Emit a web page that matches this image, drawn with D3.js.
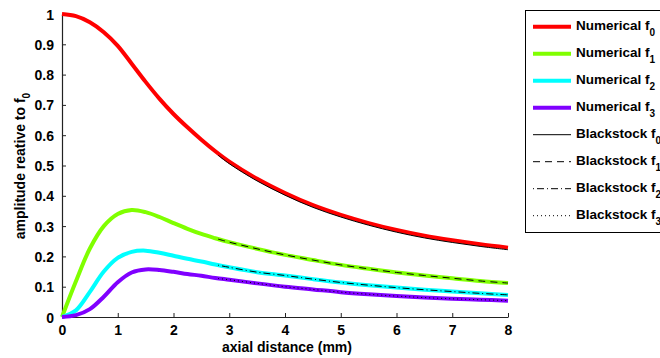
<!DOCTYPE html>
<html><head><meta charset="utf-8">
<script src="https://cdn.jsdelivr.net/npm/d3@7"></script>
<style>
html,body{margin:0;padding:0;background:#fff;}
svg{display:block;font-family:"Liberation Sans",Arial,Helvetica,sans-serif;font-weight:bold;}
</style></head>
<body>
<svg id="chart" width="660" height="358"></svg>
<script>
// ---- data ----
const xNum = [0,0.25,0.5,0.75,1,1.25,1.5,1.75,2,2.25,2.5,2.75,3,3.5,4,4.5,5,5.5,6,6.5,7,7.5,8];
const numF0 = [1.0,0.993,0.973,0.940,0.895,0.836,0.776,0.720,0.670,0.626,0.585,0.547,0.513,0.456,0.409,0.369,0.337,0.310,0.287,0.268,0.253,0.240,0.229];
const numF1 = [0,0.118,0.226,0.300,0.340,0.353,0.346,0.330,0.310,0.291,0.274,0.260,0.247,0.225,0.205,0.188,0.172,0.159,0.147,0.137,0.128,0.119,0.112];
const numF2 = [0,0.022,0.083,0.150,0.195,0.215,0.219,0.212,0.202,0.192,0.183,0.173,0.164,0.148,0.137,0.125,0.114,0.105,0.097,0.090,0.084,0.078,0.073];
const numF3 = [0,0.006,0.026,0.067,0.115,0.147,0.157,0.155,0.149,0.142,0.136,0.129,0.123,0.111,0.100,0.091,0.082,0.075,0.069,0.064,0.060,0.057,0.054];

const xBs = [2.8,3,3.5,4,4.5,5,5.5,6,6.5,7,7.5,8];
const bsF0 = [0.534,0.506,0.449,0.402,0.362,0.330,0.303,0.280,0.261,0.246,0.233,0.222];
const bsF1 = [0.257,0.247,0.225,0.205,0.188,0.172,0.159,0.147,0.137,0.128,0.119,0.112];
const bsF2 = [0.171,0.164,0.148,0.137,0.125,0.114,0.105,0.097,0.090,0.084,0.078,0.073];
const bsF3 = [0.127,0.123,0.111,0.100,0.091,0.082,0.075,0.069,0.064,0.060,0.057,0.054];

const xTicks = [0,1,2,3,4,5,6,7,8];
const yTicks = [0,0.1,0.2,0.3,0.4,0.5,0.6,0.7,0.8,0.9,1];
const yTickLabels = ["0","0.1","0.2","0.3","0.4","0.5","0.6","0.7","0.8","0.9","1"];

const numSeries = [
  {name:"Numerical", sub:"0", values:numF0, color:"#ff0000"},
  {name:"Numerical", sub:"1", values:numF1, color:"#80ff00"},
  {name:"Numerical", sub:"2", values:numF2, color:"#00ffff"},
  {name:"Numerical", sub:"3", values:numF3, color:"#8000ff"}
];
const bsSeries = [
  {name:"Blackstock", sub:"0", values:bsF0, dash:null},
  {name:"Blackstock", sub:"1", values:bsF1, dash:"7,5"},
  {name:"Blackstock", sub:"2", values:bsF2, dash:"1,3,7,3"},
  {name:"Blackstock", sub:"3", values:bsF3, dash:"1,3"}
];

// ---- layout ----
const svg = d3.select("#chart");
const x = d3.scaleLinear().domain([0,8]).range([62,508]);
const y = d3.scaleLinear().domain([0,1]).range([317,14]);
const axisColor = "#222";

// axes
const gx = svg.append("g").attr("transform","translate(0,317)")
  .call(d3.axisBottom(x).tickValues(xTicks).tickSizeInner(-4).tickSizeOuter(0).tickPadding(8).tickFormat(d3.format("d")));
const gy = svg.append("g").attr("transform","translate(62,0)")
  .call(d3.axisLeft(y).tickValues(yTicks).tickSizeInner(-4).tickSizeOuter(0).tickPadding(8)
    .tickFormat((d,i)=>yTickLabels[i]));
[gx,gy].forEach(g=>{
  g.select(".domain").attr("stroke",axisColor).attr("stroke-width",1.2);
  g.selectAll(".tick line").attr("stroke",axisColor);
  g.selectAll(".tick text").attr("fill","#000").attr("font-size",14).attr("font-weight","bold")
   .attr("font-family","Liberation Sans, Arial, sans-serif");
});
gy.selectAll(".tick text").attr("dy","0.36em");

// lines
const lineNum = d3.line().x((d,i)=>x(xNum[i])).y(d=>y(d)).curve(d3.curveCatmullRom.alpha(0.5));
const lineBs = d3.line().x((d,i)=>x(xBs[i])).y(d=>y(d)).curve(d3.curveCatmullRom.alpha(0.5));

numSeries.forEach(s=>{
  svg.append("path").attr("d",lineNum(s.values)).attr("fill","none")
    .attr("stroke",s.color).attr("stroke-width",4).attr("stroke-linejoin","round");
});
bsSeries.forEach(s=>{
  svg.append("path").attr("d",lineBs(s.values)).attr("fill","none")
    .attr("stroke","#000").attr("stroke-width",1).attr("stroke-dasharray",s.dash);
});

// axis titles
svg.append("text").attr("x",287).attr("y",352).attr("text-anchor","middle")
  .attr("font-size",14).text("axial distance (mm)");
const yt = svg.append("text").attr("transform","translate(25,166) rotate(-90)")
  .attr("text-anchor","middle").attr("font-size",14);
yt.append("tspan").text("amplitude reative to f");
yt.append("tspan").attr("font-size",10).attr("dy",5).text("0");

// legend
const lg = svg.append("g");
lg.append("rect").attr("x",525.5).attr("y",10.5).attr("width",140).attr("height",222)
  .attr("fill","#fff").attr("stroke","#000").attr("stroke-width",1);
const allLeg = numSeries.map(s=>({...s,type:"num"})).concat(bsSeries.map(s=>({...s,type:"bs"})));
allLeg.forEach((s,i)=>{
  const ly = 26.7 + i*27;
  const l = lg.append("line").attr("x1",533).attr("x2",571).attr("y1",ly).attr("y2",ly);
  if(s.type==="num") l.attr("stroke",s.color).attr("stroke-width",4);
  else l.attr("stroke","#000").attr("stroke-width",1).attr("stroke-dasharray",s.dash);
  const t = lg.append("text").attr("x",576).attr("y",ly+3).attr("font-size",13.5);
  t.append("tspan").text(s.name+" f");
  t.append("tspan").attr("font-size",10).attr("dy",6).text(s.sub);
});
</script>
</body></html>
